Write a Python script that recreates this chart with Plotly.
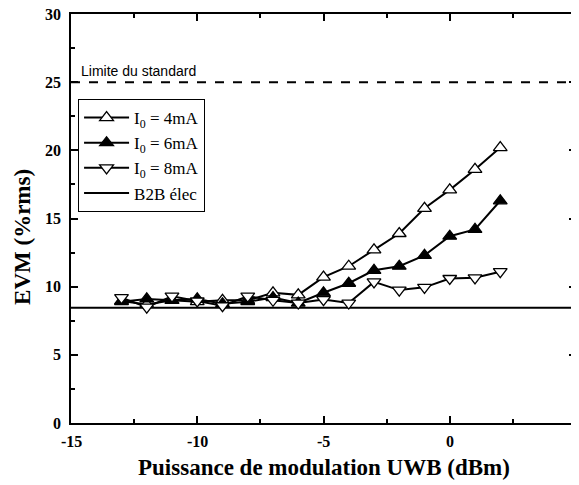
import plotly.graph_objects as go

x_power = [-13, -12, -11, -10, -9, -8, -7, -6, -5, -4, -3, -2, -1, 0, 1, 2]
evm_4mA = [8.95, 8.7, 9.0, 8.9, 9.0, 9.0, 9.55, 9.4, 10.7, 11.5, 12.7, 13.9, 15.75, 17.1, 18.6, 20.2]
evm_6mA = [8.9, 9.1, 9.0, 9.1, 8.75, 8.9, 9.2, 8.8, 9.55, 10.25, 11.2, 11.5, 12.3, 13.7, 14.2, 16.3]
evm_8mA = [9.2, 8.5, 9.3, 8.95, 8.6, 9.3, 9.0, 8.8, 9.05, 8.8, 10.35, 9.75, 9.95, 10.6, 10.65, 11.1]
b2b_x = [-15, 5]
b2b_y = [8.45, 8.45]
limit_x = [-15, 5]
limit_y = [25, 25]
x_ticks = [-15, -10, -5, 0, 5]
y_ticks = [0, 5, 10, 15, 20, 25, 30]
labels = ["I<sub>0</sub> = 4mA", "I<sub>0</sub> = 6mA", "I<sub>0</sub> = 8mA", "B2B élec"]

fig = go.Figure()
fig.add_trace(go.Scatter(x=limit_x, y=limit_y, mode="lines", showlegend=False,
                         xaxis="x2", yaxis="y2",
                         line=dict(color="black", width=2, dash="dash")))
fig.add_trace(go.Scatter(x=b2b_x, y=b2b_y, mode="lines", name=labels[3], legendrank=4,
                         line=dict(color="black", width=2)))
fig.add_trace(go.Scatter(x=x_power, y=evm_4mA, mode="lines+markers", name=labels[0], legendrank=1,
                         line=dict(color="black", width=2),
                         marker=dict(symbol="triangle-up", size=12, color="white",
                                     line=dict(color="black", width=1.3))))
fig.add_trace(go.Scatter(x=x_power, y=evm_6mA, mode="lines+markers", name=labels[1], legendrank=2,
                         line=dict(color="black", width=2),
                         marker=dict(symbol="triangle-up", size=12, color="black",
                                     line=dict(color="black", width=1.3))))
fig.add_trace(go.Scatter(x=x_power, y=evm_8mA, mode="lines+markers", name=labels[2], legendrank=3,
                         line=dict(color="black", width=2),
                         marker=dict(symbol="triangle-down", size=12, color="white",
                                     line=dict(color="black", width=1.3))))

major = dict(showline=True, linecolor="black", linewidth=2, mirror="allticks",
             ticks="inside", ticklen=7, tickwidth=1.5, tickcolor="black",
             showgrid=False, zeroline=False, showticklabels=False)
minor_ax = dict(showline=False, ticks="inside", ticklen=4, tickwidth=1.5, tickcolor="black",
                showticklabels=False, showgrid=False, zeroline=False, mirror="allticks")

fig.update_layout(
    font=dict(family="Liberation Serif", size=16, color="black"),
    xaxis=dict(range=[-15, 5], tickmode="array", tickvals=x_ticks, **major),
    yaxis=dict(range=[0, 30], tickmode="array", tickvals=y_ticks, **major),
    xaxis2=dict(range=[-15, 5], overlaying="x", side="bottom", anchor="y2",
                tickmode="linear", tick0=-15, dtick=2.5, **minor_ax),
    yaxis2=dict(range=[0, 30], overlaying="y", side="left", anchor="x2",
                tickmode="linear", tick0=0, dtick=2.5, **minor_ax),
)

tick_font = dict(family="Liberation Serif", size=16, color="black")
for v in x_ticks:
    fig.add_annotation(text="<b>%d</b>" % v, x=v, xref="x", y=0, yref="paper",
                       xanchor="center", yanchor="top", yshift=-8, showarrow=False,
                       font=tick_font)
for v in y_ticks:
    fig.add_annotation(text="<b>%d</b>" % v, x=0, xref="paper", y=v, yref="y",
                       xanchor="right", yanchor="middle", xshift=-8, showarrow=False,
                       font=tick_font)

fig.add_annotation(text="Limite du standard", x=0.016, y=25, xref="paper", yref="y",
                   xanchor="left", yanchor="bottom", yshift=1, showarrow=False,
                   font=dict(family="Liberation Sans", size=14, color="black"))
fig.add_annotation(text="<b>Puissance de modulation UWB (dBm)</b>", x=0.5, y=-0.11, xref="paper", yref="paper",
                   xanchor="center", yanchor="middle", showarrow=False,
                   font=dict(family="Liberation Serif", size=23, color="black"))
fig.add_annotation(text="<b>EVM (%rms)</b>", x=-0.095, y=0.455, xref="paper", yref="paper",
                   xanchor="center", yanchor="middle", showarrow=False, textangle=-90,
                   font=dict(family="Liberation Serif", size=23, color="black"))

# page body has an 8px margin: shrink the figure and shift margins accordingly
fig.update_layout(
    width=571, height=477,
    margin=dict(l=63, r=1, t=6, b=62),
    plot_bgcolor="white", paper_bgcolor="white",
    legend=dict(x=0.014, y=0.792, xanchor="left", yanchor="top",
                traceorder="normal",
                bgcolor="white", bordercolor="black", borderwidth=1,
                font=dict(family="Liberation Serif", size=17, color="black"),
                itemwidth=45),
)
fig.write_html("out.html")
